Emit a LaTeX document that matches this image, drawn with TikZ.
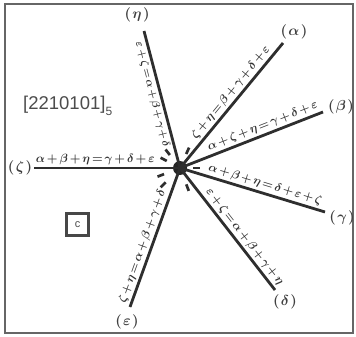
\documentclass[tikz,border=0pt]{standalone}
\usepackage{fontspec}
\usetikzlibrary{calc}
\newfontfamily\sansf{Liberation Sans}
\begin{document}
\begin{tikzpicture}[x=1pt,y=-1pt,
  ray/.style={line width=2.8pt, draw=black!82},
  eq/.style={sloped, inner sep=1.5pt, scale=1.2, text=black!80,
    execute at begin node={\boldmath\medmuskip=2.5mu\thickmuskip=2.5mu}},
  endlbl/.style={scale=1.45, text=black!75, execute at begin node={\boldmath}},
  tickmark/.style={line width=2.7pt, draw=black!82}]
\useasboundingbox (0,0) rectangle (356,337);
\draw[line width=2pt, draw=black!60] (5,4) rectangle (353,333);
% centre
\node[circle, fill=black!85, inner sep=0pt, minimum size=14pt] (c) at (180,168) {};
% ray ends
\coordinate (pA) at (283,43);
\coordinate (pB) at (323,112);
\coordinate (pG) at (325,212);
\coordinate (pD) at (275,290);
\coordinate (pE) at (130,307);
\coordinate (pZ) at (34,168);
\coordinate (pH) at (144,31);
% end labels
\node[endlbl] (lA) at (294,32) {$(\mkern1.5mu\alpha\mkern1.5mu)$};
\node[endlbl] (lB) at (341,107) {$(\mkern1.5mu\beta\mkern1.5mu)$};
\node[endlbl] (lG) at (342,218) {$(\mkern1.5mu\gamma\mkern1.5mu)$};
\node[endlbl] (lD) at (285,302) {$(\mkern1.5mu\delta\mkern1.5mu)$};
\node[endlbl] (lE) at (127,322) {$(\mkern1.5mu\varepsilon\mkern1.5mu)$};
\node[endlbl] (lZ) at (20,168) {$(\mkern1.5mu\zeta\mkern1.5mu)$};
\node[endlbl] (lH) at (137,15) {$(\mkern1.5mu\eta\mkern1.5mu)$};
% rays with equations
\draw[ray] (c.center) -- (pA) node[eq, pos=0.56, above] (tA) {$\zeta+\eta=\beta+\gamma+\delta+\varepsilon$};
\draw[ray] (c.center) -- (pB) node[eq, pos=0.6, above] (tB) {$\alpha+\zeta+\eta=\gamma+\delta+\varepsilon$};
\draw[ray] (c.center) -- (pG) node[eq, pos=0.57, above] (tG) {$\alpha+\beta+\eta=\delta+\varepsilon+\zeta$};
\draw[ray] (c.center) -- (pD) node[eq, pos=0.61, above] (tD) {$\varepsilon+\zeta=\alpha+\beta+\gamma+\eta$};
\draw[ray] (c.center) -- (pE) node[eq, pos=0.585, above] (tE) {$\zeta+\eta=\alpha+\beta+\gamma+\delta$};
\draw[ray] (c.center) -- (pZ) node[eq, pos=0.58, above] (tZ) {$\alpha+\beta+\eta=\gamma+\delta+\varepsilon$};
\draw[ray] (c.center) -- (pH) node[eq, pos=0.55, below, scale=0.92] (tH) {$\varepsilon+\zeta=\alpha+\beta+\gamma+\delta$};
% radial ticks
\foreach \a/\r in {152/18.5, 128/20, 66/18.8, 201/20.6, 225/23.8, 291/21, 0/16.5}{
  \draw[tickmark] ($(c.center)+(-\a:\r-3.5)$) -- ($(c.center)+(-\a:\r+3.5)$);
}
% texts
\node[anchor=base west, inner sep=0pt, text=black!70, font=\sansf\fontsize{18.5}{20}\selectfont] (lab) at (23,109) {[2210101]\raisebox{-6pt}{\fontsize{12}{13}\selectfont 5}};
\node[draw=black!72, line width=2.8pt, minimum size=22pt, inner sep=0pt, font=\sansf\fontsize{11}{11}\selectfont, text=black!70] (cbox) at (77.5,224.5) {c};
\end{tikzpicture}
\end{document}
